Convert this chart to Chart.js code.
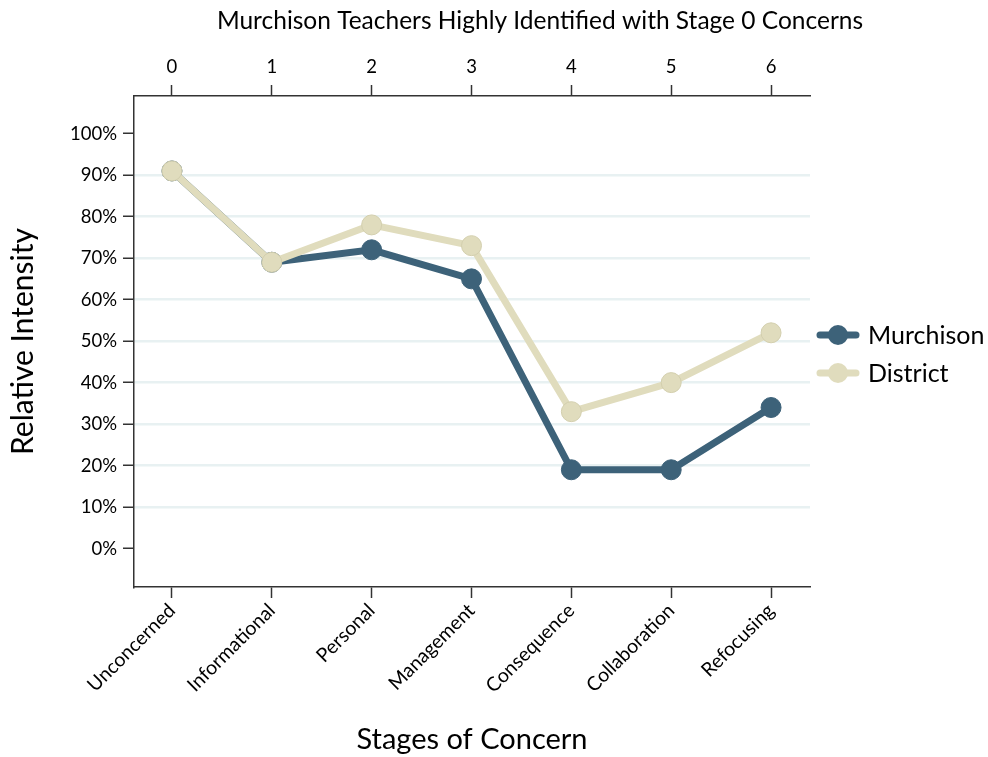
<!DOCTYPE html>
<html lang="en">
<head>
    <meta charset="UTF-8">
    <title>Murchison Teachers - Stages of Concern</title>
    <script src="https://cdn.jsdelivr.net/npm/chart.js"></script>
    <style>
        html, body { margin: 0; padding: 0; background: #fff; }
        #wrap { width: 988px; height: 757px; }
    </style>
</head>
<body>
<div id="wrap">
    <canvas id="soqChart" width="988" height="757"></canvas>
</div>
<script>
// data
const stages = ['Unconcerned', 'Informational', 'Personal', 'Management', 'Consequence', 'Collaboration', 'Refocusing'];
const stageNumbers = ['0', '1', '2', '3', '4', '5', '6'];
const murchison = [91, 69, 72, 65, 19, 19, 34];
const district = [91, 69, 78, 73, 33, 40, 52];
const yTicks = [0, 10, 20, 30, 40, 50, 60, 70, 80, 90, 100];
const seriesNames = ['Murchison', 'District'];

const colors = { murchison: '#3d6279', district: '#e0dcbd', axis: '#333333', grid: '#e8f1f2' };
const FONT = 'Lato, "Open Sans", sans-serif';

const toPoints = arr => arr.map((v, i) => ({ x: i, y: v }));

// title + legend drawn by hand (layout of the original)
const extras = {
    id: 'extras',
    afterDraw(chart) {
        const c = chart.ctx;
        c.save();
        c.fillStyle = '#000';
        c.font = '24.5px ' + FONT;
        c.textAlign = 'center';
        c.textBaseline = 'middle';
        c.fillText('Murchison Teachers Highly Identified with Stage 0 Concerns', 540, 21);

        const items = [
            { name: seriesNames[0], color: colors.murchison, y: 335 },
            { name: seriesNames[1], color: colors.district, y: 373 }
        ];
        items.forEach(it => {
            c.strokeStyle = it.color;
            c.lineWidth = 7;
            c.lineCap = 'round';
            c.beginPath();
            c.moveTo(820, it.y);
            c.lineTo(856, it.y);
            c.stroke();
            c.fillStyle = it.color;
            c.beginPath();
            c.arc(838, it.y, 10, 0, Math.PI * 2);
            c.fill();
            c.fillStyle = '#000';
            c.font = '25px ' + FONT;
            c.textAlign = 'left';
            c.fillText(it.name, 868, it.y + 1);
        });
        c.restore();
    }
};

new Chart(document.getElementById('soqChart'), {
    type: 'line',
    data: {
        datasets: [
            {
                label: seriesNames[1], data: toPoints(district),
                borderColor: colors.district, backgroundColor: colors.district,
                pointBorderColor: '#d3cfae', pointBorderWidth: 1,
                borderWidth: 7, pointRadius: 10, pointHoverRadius: 10, tension: 0
            },
            {
                label: seriesNames[0], data: toPoints(murchison),
                borderColor: colors.murchison, backgroundColor: colors.murchison,
                pointBorderColor: colors.murchison, pointBorderWidth: 1,
                borderWidth: 7, pointRadius: 10, pointHoverRadius: 10, tension: 0
            }
        ]
    },
    options: {
        responsive: false,
        animation: false,
        layout: { padding: { left: 0, right: 178, top: 0, bottom: 0 } },
        plugins: { legend: { display: false }, tooltip: { enabled: false }, title: { display: false } },
        scales: {
            x: {
                type: 'linear', position: 'bottom', min: -0.38, max: 6.39,
                afterBuildTicks: s => { s.ticks = stages.map((_, i) => ({ value: i })); },
                afterFit: s => { s.height = 170; },
                ticks: {
                    callback: v => stages[v], minRotation: 45, maxRotation: 45,
                    color: '#000', font: { family: FONT, size: 19.5 }, padding: 1
                },
                grid: { drawOnChartArea: false, drawTicks: true, tickLength: 11, tickColor: colors.axis, tickWidth: 1.5 },
                border: { display: true, color: colors.axis, width: 1.5 },
                title: { display: true, text: 'Stages of Concern', color: '#000', font: { family: FONT, size: 29 }, padding: { top: 0, bottom: 0 } }
            },
            x2: {
                type: 'linear', position: 'top', display: true, min: -0.38, max: 6.39,
                afterBuildTicks: s => { s.ticks = stageNumbers.map((_, i) => ({ value: i })); },
                afterFit: s => { s.height = 96; },
                ticks: { callback: v => stageNumbers[v], maxRotation: 0, color: '#000', font: { family: FONT, size: 18.5 }, padding: 7 },
                grid: { drawOnChartArea: false, drawTicks: true, tickLength: 11, tickColor: colors.axis, tickWidth: 1.5 },
                border: { display: true, color: colors.axis, width: 1.5 }
            },
            y: {
                min: -9.25, max: 109.06,
                afterBuildTicks: s => { s.ticks = yTicks.map(v => ({ value: v })); },
                afterFit: s => { s.width = 134; },
                ticks: { callback: v => v + '%', color: '#000', font: { family: FONT, size: 18.5 }, padding: 6 },
                grid: {
                    color: ctx => (ctx.tick && (ctx.tick.value === 0 || ctx.tick.value === 100)) ? 'rgba(0,0,0,0)' : colors.grid,
                    lineWidth: 2.5, tickLength: 11, tickColor: colors.axis, tickWidth: 1.5
                },
                border: { display: true, color: colors.axis, width: 1.5 },
                title: { display: true, text: 'Relative Intensity', color: '#000', font: { family: FONT, size: 30 }, padding: { top: 5, bottom: 0 } }
            }
        }
    },
    plugins: [extras]
});
</script>
</body>
</html>
